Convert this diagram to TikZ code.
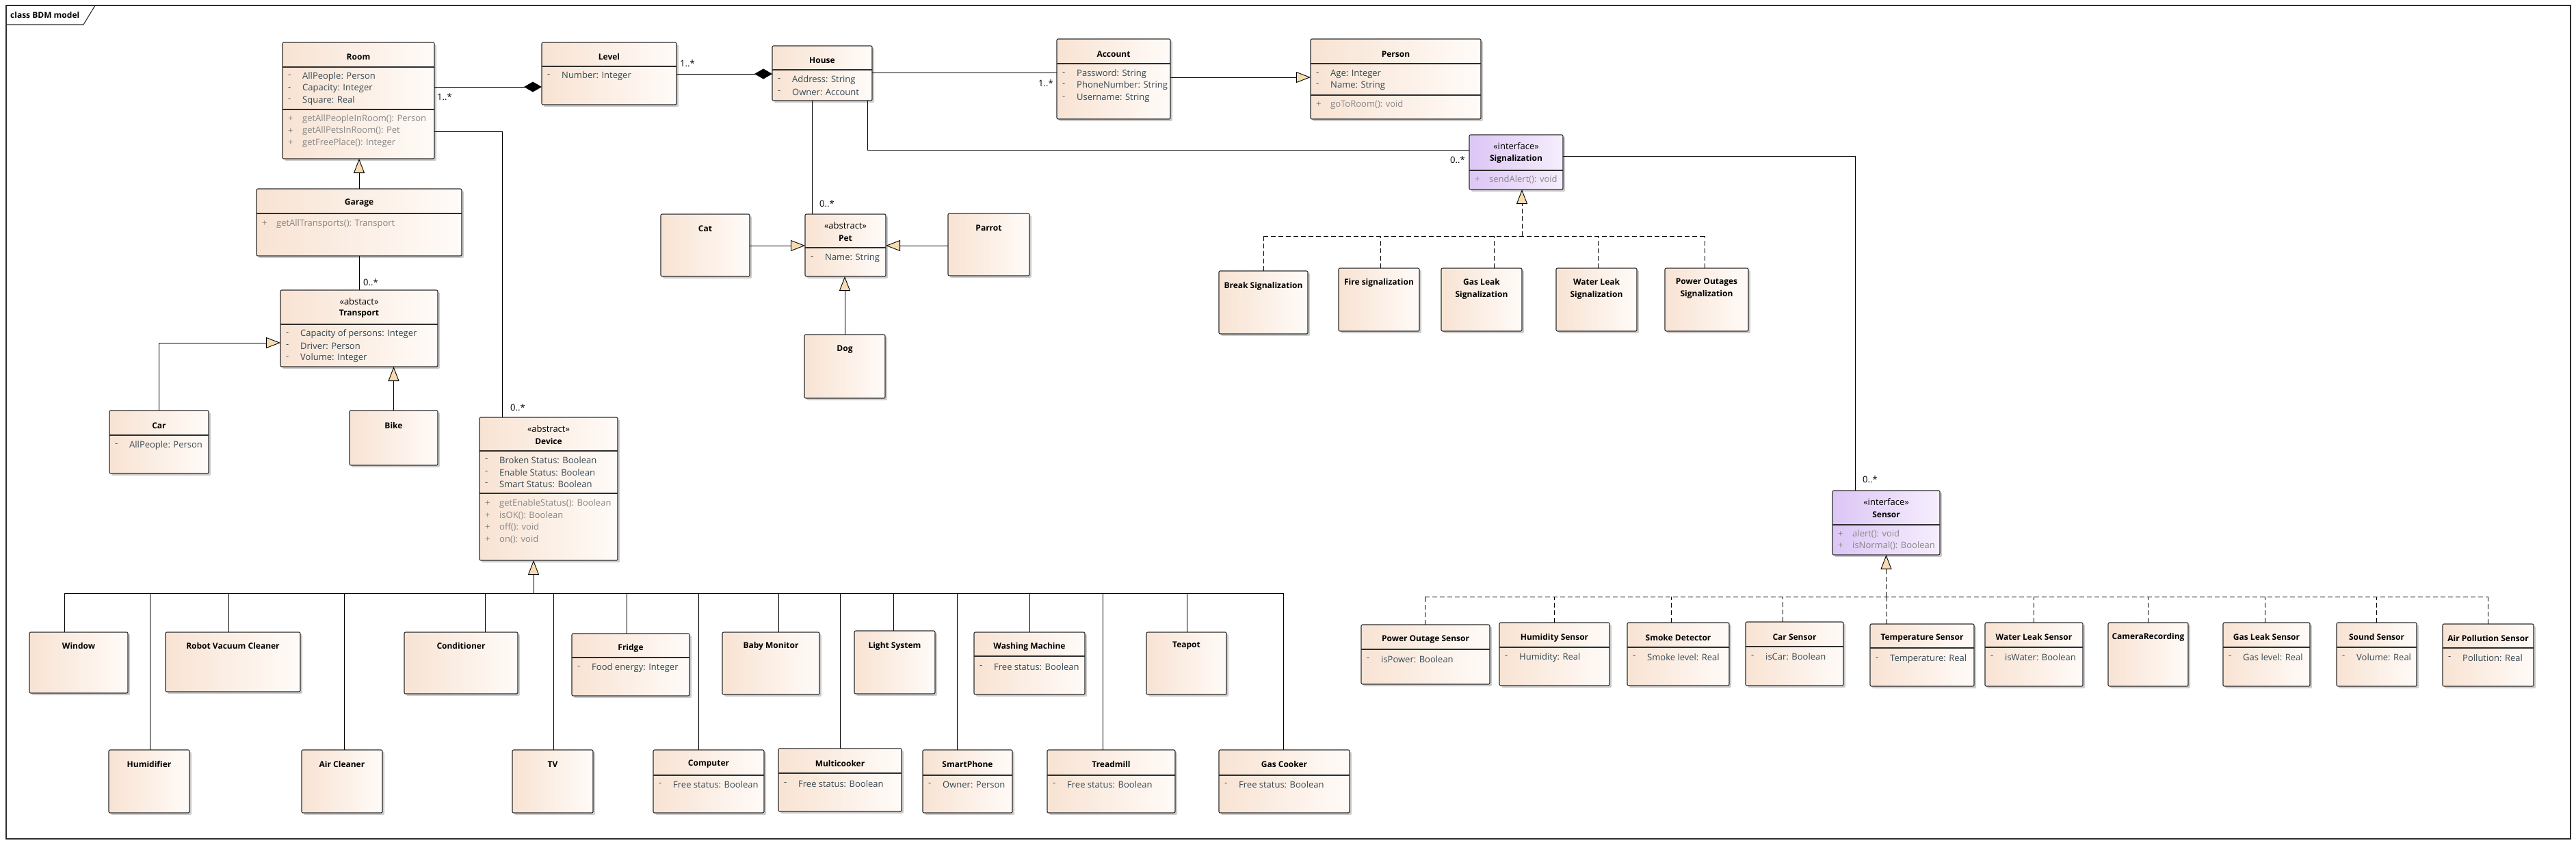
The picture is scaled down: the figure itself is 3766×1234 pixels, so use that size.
\documentclass[tikz,border=0pt]{standalone}
\usepackage{fontspec}
\setmainfont{Open Sans}
\usetikzlibrary{arrows.meta,calc,shadows}
\definecolor{boxL}{RGB}{248,227,211}
\definecolor{boxR}{RGB}{255,251,248}
\definecolor{ifL}{RGB}{220,198,246}
\definecolor{ifR}{RGB}{246,238,253}
\definecolor{bord}{RGB}{45,45,45}
\definecolor{attrc}{RGB}{52,72,82}
\definecolor{methc}{RGB}{135,135,135}
\definecolor{trif}{RGB}{247,220,178}
\tikzset{
 cbox/.style={draw=bord,line width=1.1pt,rounded corners=2pt,left color=boxL,right color=boxR,anchor=north west,inner sep=0pt,outer sep=0pt,drop shadow={shadow xshift=3pt,shadow yshift=-3pt,opacity=0.2,fill=black}},
 ibox/.style={cbox,left color=ifL,right color=ifR},
 sepl/.style={draw=bord,line width=1.1pt},
 ttl/.style={font=\fontsize{12}{18}\selectfont\bfseries,inner sep=0pt,align=center},
 ster/.style={font=\fontsize{13}{16}\selectfont,inner sep=0pt},
 attr/.style={font=\fontsize{13}{16}\selectfont,text=attrc,anchor=west,inner sep=0pt},
 meth/.style={attr,text=methc},
 mult/.style={font=\fontsize{13}{16}\selectfont,anchor=west,inner sep=0pt},
 conn/.style={draw=black,line width=0.9pt},
 gen/.style={conn,-{Triangle[width=16pt,length=21pt,fill=trif]}},
 real/.style={conn,dash pattern=on 7pt off 4pt},
 realtip/.style={real,-{Triangle[width=16pt,length=21pt,fill=trif]}},
 compo/.style={conn,-{Diamond[width=15pt,length=26pt]}},
}
\newcommand\ubox[6][cbox]{\pgfmathsetmacro\uboxw{#5-#3}\pgfmathsetmacro\uboxh{#6-#4}%
 \node[#1,minimum width=\uboxw pt,minimum height=\uboxh pt] (#2) at (#3,#4) {};}
\newcommand\usep[2]{\draw[sepl] ($(#1.north west)+(0,#2)$) -- ($(#1.north east)+(0,#2)$);}
\newcommand\utitle[3]{\node[ttl] (#1-t) at ([yshift=-#2pt]#1.north) {#3};}
\newcommand\utitleB[3]{\node[ttl] (#1-t) at ([yshift=-30pt]#1.north) {#2\\#3};}
\newcommand\ustereo[3]{\node[ster] (#1-s) at ([yshift=-17pt]#1.north) {«#2»};\node[ttl] (#1-t) at ([yshift=-35pt]#1.north) {#3};}
\newcommand\uattr[4]{\node[attr] (#1-s) at ($(#2.north west)+(8,#3)$) {-};\node[attr] (#1) at ($(#2.north west)+(29,#3)$) {#4};}
\newcommand\umeth[4]{\node[meth] (#1-s) at ($(#2.north west)+(8,#3)$) {+};\node[meth] (#1) at ($(#2.north west)+(29,#3)$) {#4};}
\newcommand\ubranch[4][conn]{\coordinate (#2-top) at ([xshift=#3pt]#2.north);\draw[#1] (#2-top) -- (#2-top |- #4);}
\begin{document}
\begin{tikzpicture}[x=1pt,y=-1pt]
\useasboundingbox (0,0) rectangle (3766,1234);
\fill[white] (0,0) rectangle (3766,1234);
% frame
\draw[line width=1.3pt,draw=bord] (9,8) rectangle (3758,1226);
\draw[line width=1.1pt,draw=bord] (9,36) -- (122,36) -- (139,8);
\node[font=\fontsize{12}{14}\selectfont\bfseries,anchor=west,inner sep=0pt] (flabel) at (15,22) {class BDM model};

% ---------- upper classes ----------
\ubox{room}{413}{62}{635}{232}\usep{room}{36}\usep{room}{98}
\utitle{room}{21}{Room}
\uattr{ra1}{room}{50}{AllPeople: Person}
\uattr{ra2}{room}{67.5}{Capacity: Integer}
\uattr{ra3}{room}{85}{Square: Real}
\umeth{rm1}{room}{112}{getAllPeopleInRoom(): Person}
\umeth{rm2}{room}{129.5}{getAllPetsInRoom(): Pet}
\umeth{rm3}{room}{147}{getFreePlace(): Integer}

\ubox{level}{792}{62}{989}{153}\usep{level}{35}
\utitle{level}{21}{Level}
\uattr{la1}{level}{49}{Number: Integer}

\ubox{house}{1129}{67}{1275}{147}\usep{house}{35}
\utitle{house}{21}{House}
\uattr{ha1}{house}{50}{Address: String}
\uattr{ha2}{house}{67.5}{Owner: Account}

\ubox{account}{1545}{57}{1711}{174}\usep{account}{36}
\utitle{account}{22}{Account}
\uattr{aa1}{account}{51}{Password: String}
\uattr{aa2}{account}{68}{PhoneNumber: String}
\uattr{aa3}{account}{86}{Username: String}

\ubox{person}{1916}{57}{2165}{174}\usep{person}{36}\usep{person}{82}
\utitle{person}{22}{Person}
\uattr{pa1}{person}{51}{Age: Integer}
\uattr{pa2}{person}{68}{Name: String}
\umeth{pm1}{person}{96}{goToRoom(): void}

\ubox[ibox]{sig}{2148}{197}{2285}{277}\usep{sig}{52}
\ustereo{sig}{interface}{Signalization}
\umeth{sm1}{sig}{66}{sendAlert(): void}

\ubox{garage}{375}{276}{675}{374}\usep{garage}{36}
\utitle{garage}{21}{Garage}
\umeth{gm1}{garage}{51}{getAllTransports(): Transport}

\ubox{transport}{410}{424}{640}{536}\usep{transport}{50}
\ustereo{transport}{abstact}{Transport}
\uattr{ta1}{transport}{64}{Capacity of persons: Integer}
\uattr{ta2}{transport}{81.5}{Driver: Person}
\uattr{ta3}{transport}{99}{Volume: Integer}

\ubox{car}{160}{600}{305}{692}\usep{car}{36}
\utitle{car}{22}{Car}
\uattr{ca1}{car}{51}{AllPeople: Person}

\ubox{bike}{511}{600}{640}{680}
\utitle{bike}{22}{Bike}

\ubox{cat}{966}{313}{1096}{404}
\utitle{cat}{21}{Cat}
\ubox{pet}{1177}{313}{1295}{404}\usep{pet}{49}
\ustereo{pet}{abstract}{Pet}
\uattr{pe1}{pet}{64}{Name: String}
\ubox{parrot}{1386}{312}{1505}{403}
\utitle{parrot}{21}{Parrot}
\ubox{dog}{1176}{489}{1294}{582}
\utitle{dog}{22}{Dog}

\ubox{device}{701}{610}{903}{819}\usep{device}{49}\usep{device}{111}
\ustereo{device}{abstract}{Device}
\uattr{da1}{device}{63}{Broken Status: Boolean}
\uattr{da2}{device}{80.5}{Enable Status: Boolean}
\uattr{da3}{device}{98}{Smart Status: Boolean}
\umeth{dm1}{device}{126}{getEnableStatus(): Boolean}
\umeth{dm2}{device}{143.5}{isOK(): Boolean}
\umeth{dm3}{device}{161}{off(): void}
\umeth{dm4}{device}{178.5}{on(): void}

\ubox[ibox]{sensor}{2679}{717}{2836}{811}\usep{sensor}{50}
\ustereo{sensor}{interface}{Sensor}
\umeth{se1}{sensor}{63.5}{alert(): void}
\umeth{se2}{sensor}{81}{isNormal(): Boolean}

% ---------- signalization kinds ----------
\ubox{brk}{1782}{396}{1912}{488}\utitle{brk}{22}{Break Signalization}
\ubox{fire}{1957}{392}{2075}{484}\utitle{fire}{21}{Fire signalization}
\ubox{gasl}{2107}{392}{2225}{484}\utitleB{gasl}{Gas Leak}{Signalization}
\ubox{waterl}{2275}{392}{2393}{484}\utitleB{waterl}{Water Leak}{Signalization}
\ubox{powero}{2434}{392}{2556}{484}\utitleB{powero}{Power Outages}{Signalization}

% ---------- sensors ----------
\ubox{pos}{1990}{913}{2178}{1000}\usep{pos}{36}\utitle{pos}{22}{Power Outage Sensor}\uattr{posa}{pos}{51}{isPower: Boolean}
\ubox{hum}{2192}{910}{2353}{1002}\usep{hum}{36}\utitle{hum}{22}{Humidity Sensor}\uattr{huma}{hum}{51}{Humidity: Real}
\ubox{smoke}{2379}{910}{2528}{1002}\usep{smoke}{36}\utitle{smoke}{22}{Smoke Detector}\uattr{smokea}{smoke}{51}{Smoke level: Real}
\ubox{cars}{2552}{909}{2695}{1002}\usep{cars}{36}\utitle{cars}{22}{Car Sensor}\uattr{carsa}{cars}{51}{isCar: Boolean}
\ubox{temp}{2734}{912}{2886}{1003}\usep{temp}{35}\utitle{temp}{21}{Temperature Sensor}\uattr{tempa}{temp}{51}{Temperature: Real}
\ubox{wls}{2902}{910}{3045}{1003}\usep{wls}{36}\utitle{wls}{21}{Water Leak Sensor}\uattr{wlsa}{wls}{51}{isWater: Boolean}
\ubox{cam}{3082}{910}{3199}{1003}\utitle{cam}{21}{CameraRecording}
\ubox{gls}{3250}{910}{3377}{1003}\usep{gls}{36}\utitle{gls}{21}{Gas Leak Sensor}\uattr{glsa}{gls}{51}{Gas level: Real}
\ubox{sound}{3416}{910}{3533}{1003}\usep{sound}{36}\utitle{sound}{21}{Sound Sensor}\uattr{sounda}{sound}{51}{Volume: Real}
\ubox{airp}{3571}{912}{3704}{1003}\usep{airp}{35}\utitle{airp}{21}{Air Pollution Sensor}\uattr{airpa}{airp}{50}{Pollution: Real}

% ---------- devices ----------
\ubox{window}{43}{924}{187}{1013}\utitle{window}{20}{Window}
\ubox{robot}{242}{924}{439}{1011}\utitle{robot}{20}{Robot Vacuum Cleaner}
\ubox{cond}{591}{924}{757}{1014}\utitle{cond}{20}{Conditioner}
\ubox{fridge}{836}{926}{1008}{1017}\usep{fridge}{35}\utitle{fridge}{21}{Fridge}\uattr{fra}{fridge}{50}{Food energy: Integer}
\ubox{baby}{1056}{924}{1198}{1015}\utitle{baby}{20}{Baby Monitor}
\ubox{light}{1249}{922}{1367}{1014}\utitle{light}{22}{Light System}
\ubox{wash}{1424}{924}{1586}{1015}\usep{wash}{35}\utitle{wash}{21}{Washing Machine}\uattr{washa}{wash}{51}{Free status: Boolean}
\ubox{teapot}{1676}{924}{1793}{1015}\utitle{teapot}{20}{Teapot}
\ubox{humid}{159}{1096}{277}{1188}\utitle{humid}{21}{Humidifier}
\ubox{aircl}{441}{1096}{559}{1188}\utitle{aircl}{21}{Air Cleaner}
\ubox{tv}{749}{1096}{867}{1188}\utitle{tv}{21}{TV}
\ubox{comp}{955}{1096}{1117}{1188}\usep{comp}{37}\utitle{comp}{21}{Computer}\uattr{compa}{comp}{51}{Free status: Boolean}
\ubox{multi}{1138}{1094}{1318}{1186}\usep{multi}{36}\utitle{multi}{22}{Multicooker}\uattr{multia}{multi}{52}{Free status: Boolean}
\ubox{smart}{1349}{1096}{1480}{1188}\usep{smart}{37}\utitle{smart}{21}{SmartPhone}\uattr{smarta}{smart}{51}{Owner: Person}
\ubox{tread}{1531}{1096}{1718}{1188}\usep{tread}{37}\utitle{tread}{21}{Treadmill}\uattr{treada}{tread}{51}{Free status: Boolean}
\ubox{gascook}{1782}{1096}{1973}{1188}\usep{gascook}{37}\utitle{gascook}{21}{Gas Cooker}\uattr{gascooka}{gascook}{51}{Free status: Boolean}

% ---------- associations ----------
\draw[compo] ($(room.north east)+(0,65)$) -- ($(level.north west)+(0,65)$);
\draw[compo] ($(level.north east)+(0,46)$) -- ($(house.north west)+(0,41)$);
\draw[conn] ($(house.north east)+(0,39)$) -- ($(account.north west)+(0,49)$);
\draw[gen] ($(account.north east)+(0,56)$) -- ($(person.north west)+(0,56)$);
\draw[conn] ($(house.south west)+(58,0)$) -- ($(pet.north west)+(10,0)$);
\draw[conn] ($(house.south east)+(-7,0)$) |- ($(sig.north west)+(0,22)$);
\draw[conn] ($(sig.north east)+(0,31)$) -| ($(sensor.north west)+(33,0)$);
\draw[conn] ($(room.north east)+(0,130)$) -| ($(device.north west)+(33,0)$);
\draw[gen] (garage.north) -- (garage.north |- room.south);
\draw[conn] (garage.south) -- (garage.south |- transport.north);
\draw[gen] (car.north) |- ($(transport.north west)+(0,77)$);
\draw[gen] (bike.north) -- (bike.north |- transport.south);
\draw[gen] ($(cat.north east)+(0,46)$) -- ($(pet.north west)+(0,46)$);
\draw[gen] ($(parrot.north west)+(0,47)$) -- ($(pet.north east)+(0,46)$);
\draw[gen] (dog.north) -- (dog.north |- pet.south);

% multiplicities
\node[mult] (m1) at (639,142) {1..*};
\node[mult] (m2) at (994,93) {1..*};
\node[mult] (m3) at (1518,122) {1..*};
\node[mult] (m4) at (1198,298) {0..*};
\node[mult] (m5) at (2120,234) {0..*};
\node[mult] (m6) at (2723,701) {0..*};
\node[mult] (m7) at (746,596) {0..*};
\node[mult] (m8) at (531,413) {0..*};

% ---------- device generalization tree ----------
\coordinate (devbus) at ($(device.south)+(-22,48)$);
\draw[gen] (devbus) -- ([xshift=-22pt]device.south);
\ubranch{window}{-21}{devbus}
\ubranch{robot}{-6}{devbus}
\ubranch{cond}{35}{devbus}
\ubranch{fridge}{-6}{devbus}
\ubranch{humid}{1}{devbus}
\ubranch{aircl}{3}{devbus}
\ubranch{tv}{1}{devbus}
\ubranch{comp}{-15}{devbus}
\ubranch{baby}{11}{devbus}
\ubranch{multi}{0}{devbus}
\ubranch{light}{-2}{devbus}
\ubranch{smart}{-15}{devbus}
\ubranch{wash}{0}{devbus}
\ubranch{tread}{-12}{devbus}
\ubranch{teapot}{1}{devbus}
\ubranch{gascook}{-1}{devbus}
\draw[conn] (window-top |- devbus) -- (gascook-top |- devbus);

% ---------- signalization realization tree ----------
\coordinate (sigbus) at ($(sig.south)+(8.5,68)$);
\draw[realtip] (sigbus) -- ([xshift=8.5pt]sig.south);
\ubranch[real]{brk}{0}{sigbus}
\ubranch[real]{fire}{2}{sigbus}
\ubranch[real]{gasl}{18}{sigbus}
\ubranch[real]{waterl}{2}{sigbus}
\ubranch[real]{powero}{-3}{sigbus}
\draw[real] (brk-top |- sigbus) -- (powero-top |- sigbus);

% ---------- sensor realization tree ----------
\coordinate (senbus) at ($(sensor.south)+(0,61)$);
\draw[realtip] (senbus) -- (sensor.south);
\ubranch[real]{pos}{-1}{senbus}
\ubranch[real]{hum}{0}{senbus}
\ubranch[real]{smoke}{-10}{senbus}
\ubranch[real]{cars}{-17}{senbus}
\ubranch[real]{temp}{-52}{senbus}
\ubranch[real]{wls}{0}{senbus}
\ubranch[real]{cam}{0}{senbus}
\ubranch[real]{gls}{-2}{senbus}
\ubranch[real]{sound}{0}{senbus}
\ubranch[real]{airp}{0}{senbus}
\draw[real] (pos-top |- senbus) -- (airp-top |- senbus);
\end{tikzpicture}
\end{document}
